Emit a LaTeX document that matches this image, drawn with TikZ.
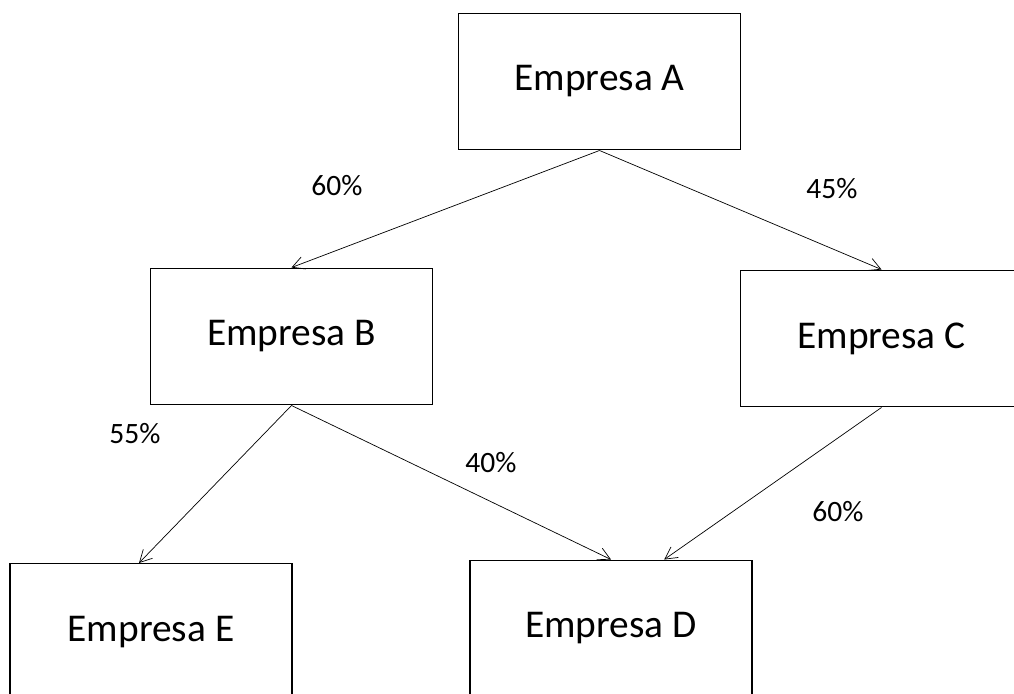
\documentclass[tikz,border=0pt]{standalone}
\usepackage{fontspec}
\setmainfont{Carlito}
\usetikzlibrary{positioning,arrows.meta}
\tikzset{
  empresa/.style={draw, line width=0.8pt, minimum width=7.05cm, minimum height=3.42cm,
    inner sep=0pt, font=\fontsize{28}{34}\selectfont},
  pct/.style={font=\fontsize{21}{25}\selectfont, inner sep=0pt},
  >={Straight Barb[length=3mm,width=3.2mm]},
}
\begin{document}
\begin{tikzpicture}[x=0.025cm, y=-0.025cm, line width=0.5pt]
\clip (0,0) rectangle (1014,693);
\fill[white] (0,0) rectangle (1014,693);

\node[empresa] (A) at (599.5,81.5) {Empresa A};
\node[empresa] (B) at (291.5,336.5) {Empresa B};
\node[empresa] (C) at (881.5,338.5) {Empresa C};
\node[empresa] (E) at (151,632) {Empresa E};
\node[empresa] (D) at (611,628.5) {Empresa D};

\node[pct] (ab) at (337,186) {60\%};
\node[pct] (ac) at (832,189) {45\%};
\node[pct] (be) at (135,434) {55\%};
\node[pct] (bd) at (491,463) {40\%};
\node[pct] (cd) at (838,512) {60\%};

\draw[->] (A.south) -- (B.north);
\draw[->] (A.south) -- (C.north);
\draw[->] (B.south) -- ([xshift=-0.3cm]E.north);
\draw[->] (B.south) -- (D.north);
\draw[->] (C.south) -- ([xshift=1.33cm]D.north);
\end{tikzpicture}
\end{document}
